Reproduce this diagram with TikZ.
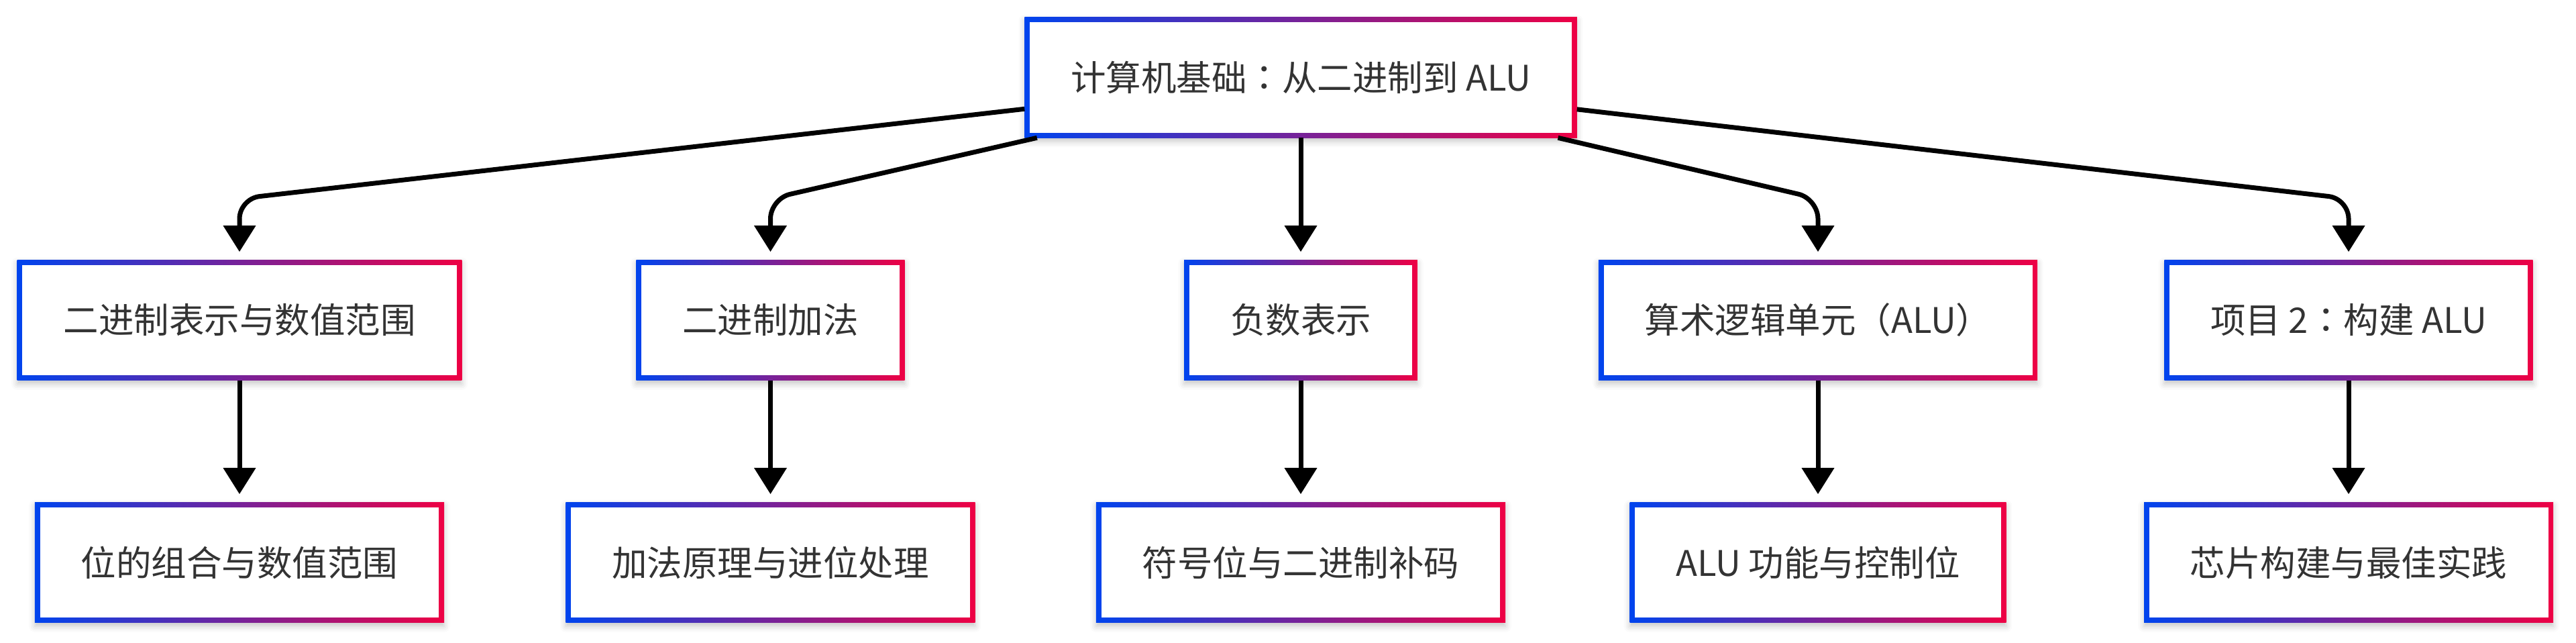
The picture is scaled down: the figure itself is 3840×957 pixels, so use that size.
\documentclass[tikz,border=0pt]{standalone}
\usepackage{fontspec}
\setmainfont{Noto Sans CJK SC}
\newfontfamily\tcfont{Noto Sans CJK TC}
\newcommand{\fwcolon}{{\tcfont ：}}
\usetikzlibrary{arrows.meta,backgrounds,shadows.blur}
\definecolor{gblue}{HTML}{0044EE}
\definecolor{gred}{HTML}{EE0044}
\definecolor{txt}{HTML}{333333}
\begin{document}
\begin{tikzpicture}[x=0.25pt,y=-0.25pt,
  box/.style={rectangle, inner xsep=17pt, inner ysep=0pt, minimum height=44.5pt,
    text=txt, font=\fontsize{13.125pt}{15pt}\selectfont, anchor=center},
  conn/.style={line width=1.75pt, black, rounded corners=7.5pt,
    -{Triangle[length=9.75pt,width=11.75pt]}, shorten >=3pt}
]
\useasboundingbox (0,0) rectangle (3840,957);

\node[box] (top) at (1939,115.5) {计算机基础\fwcolon 从二进制到 ALU};

\node[box] (a1) at (357,477)  {二进制表示与数值范围};
\node[box] (a2) at (1148.5,477) {二进制加法};
\node[box] (a3) at (1939,477) {负数表示};
\node[box] (a4) at (2710,477) {算术逻辑单元（ALU）};
\node[box] (a5) at (3501,477) {项目 2\fwcolon 构建 ALU};

\node[box] (b1) at (357,838)  {位的组合与数值范围};
\node[box] (b2) at (1148.5,838) {加法原理与进位处理};
\node[box] (b3) at (1939,838) {符号位与二进制补码};
\node[box] (b4) at (2710,838) {ALU 功能与控制位};
\node[box] (b5) at (3501,838) {芯片构建与最佳实践};

\begin{scope}[on background layer]
\foreach \n in {top,a1,a2,a3,a4,a5,b1,b2,b3,b4,b5} {
  \fill[white, blur shadow={shadow xshift=0pt, shadow yshift=-1.3pt,
        shadow blur radius=2.2pt, shadow opacity=22}]
    (\n.south west) rectangle (\n.north east);
  \shade[left color=gblue, right color=gred]
    (\n.south west) rectangle (\n.north east);
  \fill[white] ([xshift=1.9pt,yshift=1.9pt]\n.south west)
    rectangle ([xshift=-1.9pt,yshift=-1.9pt]\n.north east);
}
\end{scope}

\coordinate (c1) at (357,296);
\coordinate (c2) at (1148.5,296);
\coordinate (c4) at (2710,296);
\coordinate (c5) at (3501,296);

\draw[conn] (top) -- (c1) -- (a1);
\draw[conn] (top) -- (c2) -- (a2);
\draw[conn] (top) -- (a3);
\draw[conn] (top) -- (c4) -- (a4);
\draw[conn] (top) -- (c5) -- (a5);

\draw[conn] (a1) -- (b1);
\draw[conn] (a2) -- (b2);
\draw[conn] (a3) -- (b3);
\draw[conn] (a4) -- (b4);
\draw[conn] (a5) -- (b5);
\end{tikzpicture}
\end{document}
